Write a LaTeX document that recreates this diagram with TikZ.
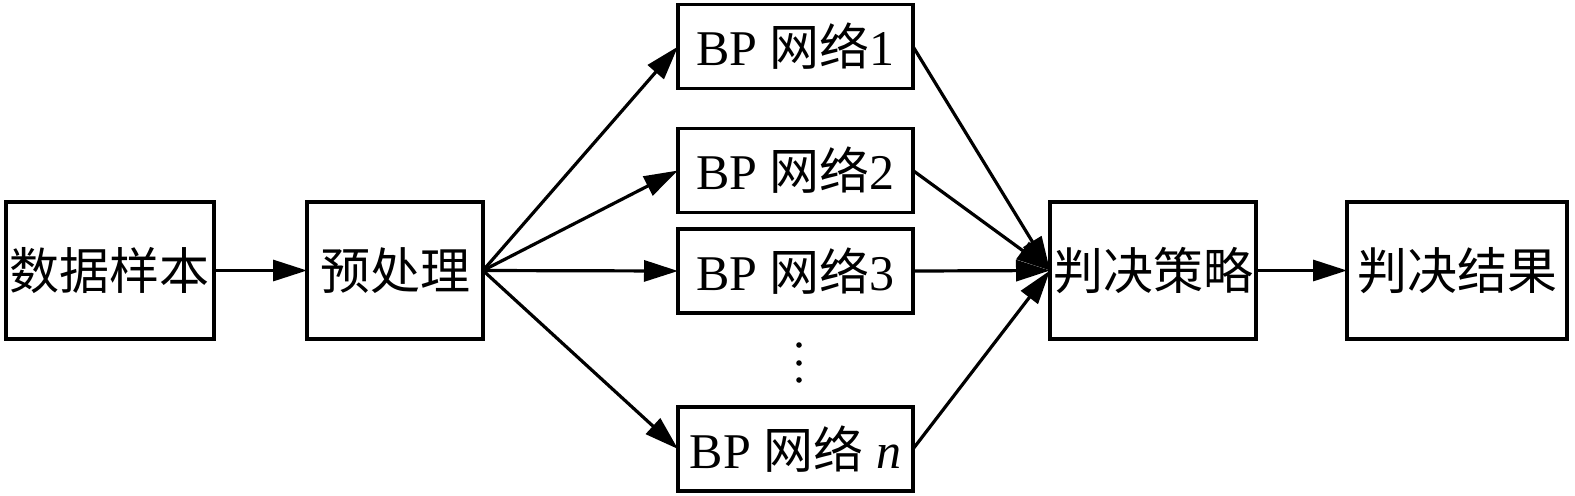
\documentclass[tikz,border=0pt]{standalone}
\usepackage{fontspec}
\setmainfont{Liberation Serif}
\newfontfamily\cjk{Noto Sans CJK SC}
\usetikzlibrary{arrows.meta}
\begin{document}
\begin{tikzpicture}[x=0.5pt,y=-0.5pt,
  box/.style={draw,line width=1.6pt,inner sep=0pt,outer sep=0pt,anchor=center,
    font=\fontsize{25}{30}\selectfont},
  bigbox/.style={box,minimum height=68.5pt},
  bpbox/.style={box,minimum width=117.5pt,minimum height=42pt},
  arr/.style={line width=1.6pt,-{Triangle[length=17pt,width=10.5pt]}}]
\useasboundingbox (0,0) rectangle (1575,495);
\node[bigbox,minimum width=104pt] (data) at (110,270.5) {\cjk 数据样本};
\node[bigbox,minimum width=88pt] (pre) at (395,270.5) {\cjk 预处理};
\node[bpbox] (bp1) at (795.5,46.5) {BP {\cjk 网络}1};
\node[bpbox] (bp2) at (795.5,170.5) {BP {\cjk 网络}2};
\node[bpbox] (bp3) at (795.5,271) {BP {\cjk 网络}3};
\node[bpbox] (bpn) at (795.5,449) {BP {\cjk 网络} \textit{n}};
\node[bigbox,minimum width=103pt] (jc) at (1153,270.5) {\cjk 判决策略};
\node[bigbox,minimum width=110pt] (jg) at (1457,270.5) {\cjk 判决结果};
\foreach \yy in {345,363,380} \fill (799,\yy) circle (1.4pt);
\draw[arr] (data.east) -- (pre.west);
\draw[arr] (pre.east) -- (bp1.west);
\draw[arr] (pre.east) -- (bp2.west);
\draw[arr] (pre.east) -- (bp3.west);
\draw[arr] (pre.east) -- (bpn.west);
\draw[arr] (bp1.east) -- (jc.west);
\draw[arr] (bp2.east) -- (jc.west);
\draw[arr] (bp3.east) -- (jc.west);
\draw[arr] (bpn.east) -- (jc.west);
\draw[arr] (jc.east) -- (jg.west);
\end{tikzpicture}
\end{document}
